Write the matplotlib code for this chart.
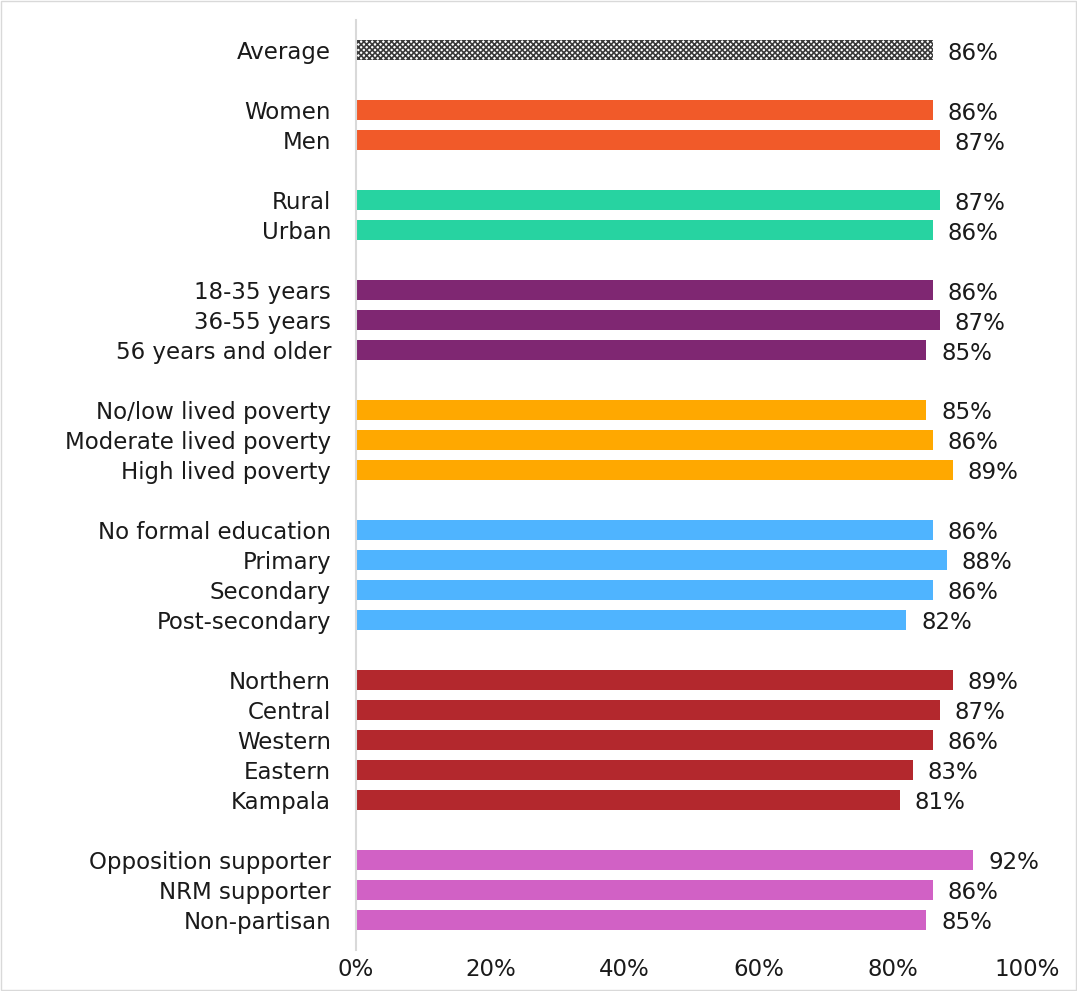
import matplotlib.pyplot as plt
import numpy as np

plt.rcParams["font.family"] = ["DejaVu Sans"]
plt.rcParams["hatch.linewidth"] = 1.2

# groups of categories, shown top to bottom with a blank row between groups
groups = [
    ["Average"],
    ["Women", "Men"],
    ["Rural", "Urban"],
    ["18-35 years", "36-55 years", "56 years and older"],
    ["No/low lived poverty", "Moderate lived poverty", "High lived poverty"],
    ["No formal education", "Primary", "Secondary", "Post-secondary"],
    ["Northern", "Central", "Western", "Eastern", "Kampala"],
    ["Opposition supporter", "NRM supporter", "Non-partisan"],
]
values = [
    [86],
    [86, 87],
    [87, 86],
    [86, 87, 85],
    [85, 86, 89],
    [86, 88, 86, 82],
    [89, 87, 86, 83, 81],
    [92, 86, 85],
]
colors = ["#bdbdbd", "#F15A29", "#27D3A1", "#7F2772", "#FFA800",
          "#4FB4FF", "#B3282D", "#D161C5"]

fig = plt.figure(figsize=(10.77, 9.91), dpi=100)
ax = fig.add_axes([0.3306, 0.0414, 0.623, 0.9384])

ypos, labels = [], []
row = 0
for gi, (cats, vals) in enumerate(zip(groups, values)):
    for c, v in zip(cats, vals):
        if gi == 0:
            ax.barh(row, v, height=0.67, color="white", edgecolor="#3a3a3a",
                    hatch="xxxxxx", linewidth=0)
        else:
            ax.barh(row, v, height=0.67, color=colors[gi], linewidth=0)
        ax.text(v + 2.2, row + 0.1, f"{v}%", va="center", ha="left",
                fontsize=16.5, color="#1a1a1a")
        ypos.append(row)
        labels.append(c)
        row += 1
    row += 1

ax.set_ylim(row - 1, -1)
ax.set_xlim(0, 100)
ax.set_yticks(ypos)
ax.set_yticklabels(labels, fontsize=16.5, color="#1a1a1a")
ax.set_xticks(np.arange(0, 101, 20))
ax.set_xticklabels([f"{t}%" for t in range(0, 101, 20)], fontsize=16.5,
                   color="#1a1a1a")
ax.tick_params(axis="both", length=0)
ax.tick_params(axis="y", pad=18)
ax.tick_params(axis="x", pad=6)
for s in ["top", "right", "bottom"]:
    ax.spines[s].set_visible(False)
ax.spines["left"].set_color("#d9d9d9")
ax.spines["left"].set_linewidth(1.5)

fig.patches.append(plt.Rectangle((0.001, 0.001), 0.998, 0.998,
                                 transform=fig.transFigure, fill=False,
                                 edgecolor="#d9d9d9", linewidth=1))

fig.savefig("out.png", dpi=100)
